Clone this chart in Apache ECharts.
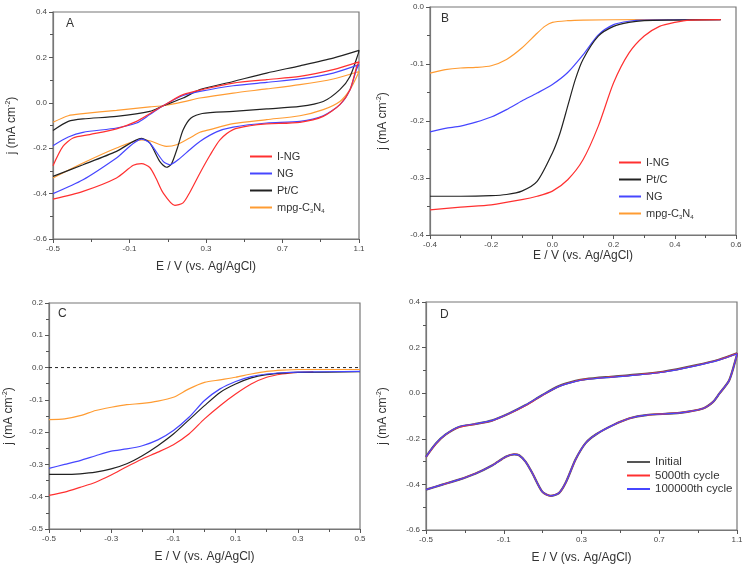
<!DOCTYPE html>
<html>
<head>
<meta charset="utf-8">
<script src="https://cdn.jsdelivr.net/npm/echarts@6/dist/echarts.min.js"></script>
<style>
  html, body { margin: 0; padding: 0; background: #fff; }
  #main { width: 746px; height: 568px; }
</style>
</head>
<body>
<div id="main"></div>
<script>
// panel A: CV curves, [E, j] going up from -0.5 to 1.1 then back down
var aIngUp = [[-0.5,-0.277],[-0.448,-0.192],[-0.395,-0.155],[-0.308,-0.14],[-0.168,-0.115],[-0.063,-0.082],[0.006,-0.048],[0.076,-0.013],[0.18,0.036],[0.3,0.062],[0.442,0.087],[0.617,0.102],[0.791,0.116],[0.965,0.146],[1.1,0.18]];
var aIngDown = [[1.088,0.16],[1.053,0.058],[1.0,-0.008],[0.913,-0.06],[0.791,-0.086],[0.617,-0.093],[0.53,-0.101],[0.442,-0.118],[0.373,-0.163],[0.32,-0.232],[0.268,-0.31],[0.215,-0.395],[0.18,-0.441],[0.137,-0.452],[0.076,-0.397],[0.04,-0.335],[0.006,-0.285],[-0.037,-0.268],[-0.08,-0.275],[-0.168,-0.331],[-0.343,-0.39],[-0.5,-0.424]];
var aNgUp = [[-0.5,-0.189],[-0.42,-0.151],[-0.343,-0.13],[-0.168,-0.111],[-0.063,-0.089],[0.006,-0.052],[0.076,-0.013],[0.18,0.032],[0.268,0.05],[0.442,0.075],[0.617,0.09],[0.791,0.105],[0.965,0.131],[1.1,0.168]];
var aNgDown = [[1.088,0.15],[1.053,0.058],[1.0,-0.008],[0.913,-0.057],[0.791,-0.082],[0.617,-0.089],[0.442,-0.107],[0.355,-0.128],[0.268,-0.17],[0.215,-0.207],[0.154,-0.251],[0.111,-0.273],[0.076,-0.258],[0.006,-0.177],[-0.037,-0.16],[-0.168,-0.243],[-0.343,-0.339],[-0.5,-0.4]];
var aPtUp = [[-0.5,-0.122],[-0.42,-0.082],[-0.343,-0.071],[-0.168,-0.06],[0.006,-0.038],[0.076,-0.013],[0.18,0.021],[0.268,0.058],[0.442,0.094],[0.617,0.131],[0.791,0.163],[0.965,0.197],[1.1,0.231]];
var aPtDown = [[1.097,0.219],[1.053,0.116],[1.0,0.058],[0.913,0.006],[0.791,-0.016],[0.617,-0.027],[0.442,-0.038],[0.28,-0.047],[0.22,-0.068],[0.18,-0.12],[0.15,-0.2],[0.119,-0.27],[0.093,-0.284],[0.058,-0.258],[0.006,-0.177],[-0.037,-0.157],[-0.168,-0.214],[-0.343,-0.273],[-0.5,-0.324]];
var aMpgUp = [[-0.5,-0.086],[-0.42,-0.057],[-0.343,-0.048],[-0.168,-0.033],[0.006,-0.018],[0.076,-0.013],[0.18,0.004],[0.268,0.021],[0.442,0.043],[0.617,0.061],[0.791,0.08],[0.965,0.105],[1.1,0.138]];
var aMpgDown = [[1.097,0.131],[1.053,0.058],[1.0,0.006],[0.913,-0.03],[0.791,-0.057],[0.617,-0.074],[0.442,-0.092],[0.32,-0.118],[0.268,-0.13],[0.215,-0.155],[0.146,-0.185],[0.093,-0.192],[0.006,-0.167],[-0.037,-0.163],[-0.168,-0.199],[-0.343,-0.265],[-0.5,-0.331]];

// panel B: LSV
var bIng = [[-0.4,-0.356],[-0.3,-0.351],[-0.2,-0.347],[-0.1,-0.338],[-0.05,-0.332],[0,-0.323],[0.05,-0.303],[0.1,-0.268],[0.15,-0.209],[0.2,-0.133],[0.25,-0.081],[0.3,-0.051],[0.35,-0.034],[0.4,-0.027],[0.45,-0.023],[0.55,-0.022]];
var bPt = [[-0.4,-0.332],[-0.3,-0.332],[-0.2,-0.331],[-0.15,-0.329],[-0.1,-0.323],[-0.05,-0.306],[0,-0.256],[0.025,-0.221],[0.05,-0.174],[0.075,-0.127],[0.1,-0.092],[0.15,-0.051],[0.2,-0.034],[0.25,-0.027],[0.3,-0.024],[0.4,-0.023],[0.55,-0.022]];
var bNg = [[-0.4,-0.219],[-0.35,-0.213],[-0.3,-0.209],[-0.25,-0.202],[-0.2,-0.193],[-0.15,-0.18],[-0.1,-0.165],[-0.05,-0.151],[0,-0.136],[0.05,-0.115],[0.1,-0.084],[0.15,-0.049],[0.2,-0.031],[0.25,-0.025],[0.3,-0.023],[0.55,-0.022]];
var bMpg = [[-0.4,-0.116],[-0.35,-0.11],[-0.3,-0.107],[-0.25,-0.106],[-0.2,-0.103],[-0.15,-0.092],[-0.1,-0.072],[-0.05,-0.046],[-0.025,-0.034],[0,-0.027],[0.05,-0.024],[0.1,-0.023],[0.3,-0.022],[0.55,-0.022]];

// panel C
var cIng = [[-0.5,-0.396],[-0.45,-0.386],[-0.4,-0.371],[-0.35,-0.355],[-0.3,-0.333],[-0.25,-0.307],[-0.2,-0.283],[-0.15,-0.262],[-0.1,-0.239],[-0.05,-0.206],[0,-0.159],[0.05,-0.118],[0.1,-0.082],[0.15,-0.051],[0.2,-0.03],[0.25,-0.02],[0.3,-0.015],[0.35,-0.013]];
var cPt = [[-0.5,-0.331],[-0.45,-0.331],[-0.4,-0.329],[-0.35,-0.324],[-0.3,-0.314],[-0.25,-0.298],[-0.2,-0.273],[-0.15,-0.242],[-0.1,-0.206],[-0.05,-0.162],[0,-0.118],[0.05,-0.077],[0.1,-0.051],[0.15,-0.032],[0.2,-0.022],[0.25,-0.017],[0.3,-0.015],[0.5,-0.013]];
var cNg = [[-0.5,-0.312],[-0.45,-0.3],[-0.4,-0.288],[-0.35,-0.273],[-0.3,-0.259],[-0.25,-0.252],[-0.2,-0.242],[-0.15,-0.224],[-0.1,-0.195],[-0.05,-0.154],[0,-0.102],[0.05,-0.066],[0.1,-0.043],[0.15,-0.028],[0.2,-0.02],[0.25,-0.016],[0.3,-0.014],[0.5,-0.012]];
var cMpg = [[-0.5,-0.161],[-0.45,-0.159],[-0.4,-0.149],[-0.35,-0.133],[-0.3,-0.123],[-0.25,-0.115],[-0.2,-0.111],[-0.15,-0.104],[-0.1,-0.092],[-0.05,-0.066],[0,-0.046],[0.05,-0.038],[0.1,-0.03],[0.15,-0.02],[0.2,-0.012],[0.25,-0.008],[0.3,-0.006],[0.5,-0.006]];
var cZero = [[-0.5,0],[0.5,0]];

// panel D: stability CVs (three almost identical runs)
var dInitial = [[-0.5,-0.279],[-0.45,-0.222],[-0.4,-0.182],[-0.33,-0.148],[-0.25,-0.136],[-0.158,-0.119],[-0.073,-0.089],[0.013,-0.052],[0.099,-0.008],[0.184,0.031],[0.27,0.054],[0.322,0.062],[0.45,0.072],[0.55,0.079],[0.718,0.094],[0.892,0.123],[1.01,0.148],[1.1,0.175],
  [1.097,0.16],[1.06,0.057],[1.01,-0.001],[0.977,-0.038],[0.925,-0.067],[0.806,-0.086],[0.634,-0.096],[0.548,-0.11],[0.462,-0.14],[0.376,-0.18],[0.322,-0.218],[0.27,-0.29],[0.219,-0.392],[0.184,-0.438],[0.142,-0.45],[0.099,-0.433],[0.048,-0.352],[0.013,-0.301],[-0.021,-0.272],[-0.047,-0.268],[-0.09,-0.279],[-0.158,-0.316],[-0.244,-0.352],[-0.33,-0.379],[-0.416,-0.401],[-0.5,-0.423]];
var d5000 = [[-0.5,-0.28],[-0.45,-0.223],[-0.4,-0.182],[-0.33,-0.149],[-0.25,-0.136],[-0.158,-0.12],[-0.073,-0.09],[0.013,-0.053],[0.099,-0.009],[0.184,0.03],[0.27,0.053],[0.322,0.061],[0.45,0.071],[0.55,0.078],[0.718,0.093],[0.892,0.122],[1.01,0.147],[1.1,0.174],
  [1.097,0.16],[1.06,0.057],[1.01,-0.001],[0.977,-0.038],[0.925,-0.067],[0.806,-0.086],[0.634,-0.096],[0.548,-0.11],[0.462,-0.14],[0.376,-0.18],[0.322,-0.218],[0.27,-0.29],[0.219,-0.392],[0.184,-0.438],[0.142,-0.45],[0.099,-0.433],[0.048,-0.352],[0.013,-0.301],[-0.021,-0.272],[-0.047,-0.268],[-0.09,-0.279],[-0.158,-0.316],[-0.244,-0.352],[-0.33,-0.379],[-0.416,-0.401],[-0.5,-0.423]];
var d100000 = [[-0.5,-0.279],[-0.45,-0.221],[-0.4,-0.181],[-0.33,-0.147],[-0.25,-0.135],[-0.158,-0.119],[-0.073,-0.089],[0.013,-0.052],[0.099,-0.008],[0.184,0.03],[0.27,0.052],[0.322,0.06],[0.45,0.07],[0.55,0.077],[0.718,0.092],[0.892,0.121],[1.01,0.146],[1.1,0.173],
  [1.097,0.16],[1.06,0.057],[1.01,-0.001],[0.977,-0.038],[0.925,-0.067],[0.806,-0.086],[0.634,-0.096],[0.548,-0.11],[0.462,-0.14],[0.376,-0.18],[0.322,-0.218],[0.27,-0.29],[0.219,-0.392],[0.184,-0.438],[0.142,-0.45],[0.099,-0.433],[0.048,-0.352],[0.013,-0.301],[-0.021,-0.272],[-0.047,-0.268],[-0.09,-0.279],[-0.158,-0.316],[-0.244,-0.352],[-0.33,-0.379],[-0.416,-0.401],[-0.5,-0.423]];

var RED = '#ff3030', BLUE = '#4646ff', BLACK = '#222222', ORANGE = '#ff9c33', GRAY = '#555555';
var FONT = 'Liberation Sans';

var chart = echarts.init(document.getElementById('main'));

function fmt(v) { return (Math.abs(v) < 1e-9 ? 0 : v).toFixed(1); }

function xAx(idx, min, max, step, gap) {
  return {
    gridIndex: idx, type: 'value', min: min, max: max, interval: step,
    name: 'E / V (vs. Ag/AgCl)', nameLocation: 'middle', nameGap: gap,
    nameTextStyle: { fontFamily: FONT, fontSize: 12, color: '#333' },
    axisLine: { onZero: false, lineStyle: { color: '#777', width: 1.2 } },
    axisTick: { length: 4, lineStyle: { color: '#555' } },
    minorTick: { show: true, splitNumber: 2, length: 3, lineStyle: { color: '#555' } },
    splitLine: { show: false },
    axisLabel: { fontFamily: FONT, fontSize: 8, color: '#444', margin: 6, formatter: fmt }
  };
}
function yAx(idx, min, max, step, gap) {
  return {
    gridIndex: idx, type: 'value', min: min, max: max, interval: step,
    name: '{a|j (mA cm}{b|-2}{a|)}', nameLocation: 'middle', nameGap: gap,
    nameTextStyle: { rich: {
      a: { fontFamily: FONT, fontSize: 12, color: '#333' },
      b: { fontFamily: FONT, fontSize: 7, color: '#333', padding: [0, 0, 7, 0] }
    } },
    axisLine: { onZero: false, lineStyle: { color: '#777', width: 1.2 } },
    axisTick: { length: 4, lineStyle: { color: '#555' } },
    minorTick: { show: true, splitNumber: 2, length: 3, lineStyle: { color: '#555' } },
    splitLine: { show: false },
    axisLabel: { fontFamily: FONT, fontSize: 8, color: '#444', margin: 6, formatter: fmt }
  };
}
function line(name, data, color, xi, w) {
  return {
    name: name, type: 'line', xAxisIndex: xi, yAxisIndex: xi, data: data,
    showSymbol: false, symbol: 'none', smooth: 0.25, animation: false,
    lineStyle: { color: color, width: w || 1.2 }, itemStyle: { color: color }
  };
}
function legendFmt(name) {
  return name === 'mpg-C3N4' ? 'mpg-C{s|3}N{s|4}' : name;
}
var legendText = {
  fontFamily: FONT, fontSize: 11, color: '#333',
  rich: { s: { fontFamily: FONT, fontSize: 6, color: '#333', padding: [7, 0, 0, 0] } }
};

var option = {
  backgroundColor: '#fff',
  animation: false,
  grid: [
    { left: 53, top: 12, width: 306, height: 227, show: true, borderColor: '#777', borderWidth: 1.2 },
    { left: 430, top: 7, width: 306, height: 228, show: true, borderColor: '#777', borderWidth: 1.2 },
    { left: 49, top: 303, width: 311, height: 226, show: true, borderColor: '#777', borderWidth: 1.2 },
    { left: 426, top: 302, width: 311, height: 228, show: true, borderColor: '#777', borderWidth: 1.2 }
  ],
  xAxis: [
    xAx(0, -0.5, 1.1, 0.4, 22),
    xAx(1, -0.4, 0.6, 0.2, 15),
    xAx(2, -0.5, 0.5, 0.2, 22),
    xAx(3, -0.5, 1.1, 0.4, 22)
  ],
  yAxis: [
    yAx(0, -0.6, 0.4, 0.2, 34),
    yAx(1, -0.4, 0, 0.1, 40),
    yAx(2, -0.5, 0.2, 0.1, 33),
    yAx(3, -0.6, 0.4, 0.2, 36)
  ],
  legend: [
    { left: 245, top: 146, orient: 'vertical', itemWidth: 22, itemHeight: 2, itemGap: 6, icon: 'rect',
      data: ['I-NG', 'NG', 'Pt/C', 'mpg-C3N4'], formatter: legendFmt, textStyle: legendText },
    { left: 614, top: 152, orient: 'vertical', itemWidth: 22, itemHeight: 2, itemGap: 6, icon: 'rect',
      data: ['I-NG', 'Pt/C', 'NG', 'mpg-C3N4'], formatter: legendFmt, textStyle: legendText },
    { left: 622, top: 451, orient: 'vertical', itemWidth: 23, itemHeight: 2, itemGap: 1.5, icon: 'rect',
      data: ['Initial', '5000th cycle', '100000th cycle'],
      textStyle: { fontFamily: FONT, fontSize: 11.5, color: '#333' } }
  ],
  graphic: [
    { type: 'text', left: 66, top: 18, style: { text: 'A', font: '12px ' + FONT, fill: '#333' } },
    { type: 'text', left: 441, top: 13, style: { text: 'B', font: '12px ' + FONT, fill: '#333' } },
    { type: 'text', left: 58, top: 308, style: { text: 'C', font: '12px ' + FONT, fill: '#333' } },
    { type: 'text', left: 440, top: 309, style: { text: 'D', font: '12px ' + FONT, fill: '#333' } }
  ],
  series: [
    line('mpg-C3N4', aMpgUp.concat(aMpgDown), ORANGE, 0),
    line('Pt/C', aPtUp.concat(aPtDown), BLACK, 0),
    line('NG', aNgUp.concat(aNgDown), BLUE, 0),
    line('I-NG', aIngUp.concat(aIngDown), RED, 0),

    line('mpg-C3N4', bMpg, ORANGE, 1),
    line('NG', bNg, BLUE, 1),
    line('Pt/C', bPt, BLACK, 1),
    line('I-NG', bIng, RED, 1),

    {
      name: 'zero', type: 'line', xAxisIndex: 2, yAxisIndex: 2, data: cZero,
      showSymbol: false, symbol: 'none', animation: false,
      lineStyle: { color: '#222', width: 1, type: [3, 3] }
    },
    line('mpg-C3N4', cMpg, ORANGE, 2),
    line('I-NG', cIng, RED, 2),
    line('Pt/C', cPt, BLACK, 2),
    line('NG', cNg, BLUE, 2),

    line('Initial', dInitial, GRAY, 3, 2.2),
    line('5000th cycle', d5000, RED, 3, 1.4),
    line('100000th cycle', d100000, BLUE, 3, 1.2)
  ]
};

chart.setOption(option);
</script>
</body>
</html>
